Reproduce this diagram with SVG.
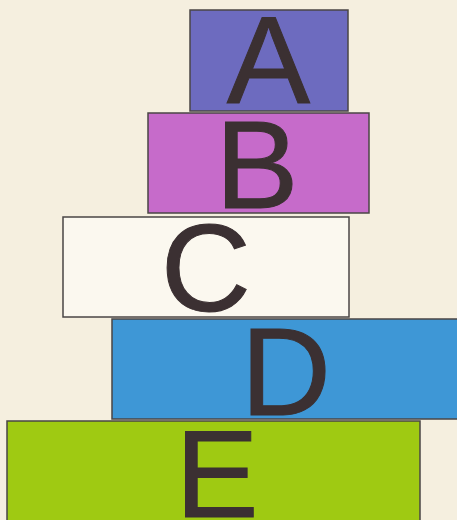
<svg xmlns="http://www.w3.org/2000/svg" width="457" height="520" viewBox="0 0 457 520">
<style>
.box{stroke:#4a4646;stroke-width:1.5}
.lbl{font-family:"Liberation Sans",Arial,sans-serif;font-size:125px;fill:#3b3032;stroke:#3b3032;stroke-width:1;text-anchor:middle}
</style>
<rect x="0" y="0" width="457" height="520" fill="#f5efdf"/>
<g id="connectors"/>
<g id="node-E">
<rect class="box" x="7" y="421" width="413" height="110" fill="#9fca12"/>
<text class="lbl" x="217" y="517">E</text>
</g>
<g id="node-D">
<rect class="box" x="112" y="319" width="360" height="100" fill="#3e97d6"/>
<text class="lbl" x="286" y="415">D</text>
</g>
<g id="node-C">
<rect class="box" x="63" y="217" width="286" height="100" fill="#fbf8ef"/>
<text class="lbl" x="206" y="311">C</text>
</g>
<g id="node-B">
<rect class="box" x="148" y="113" width="221" height="100" fill="#c66bca"/>
<text class="lbl" x="257" y="208">B</text>
</g>
<g id="node-A">
<rect class="box" x="190" y="10" width="158" height="101" fill="#6d6bbf"/>
<text class="lbl" x="268.5" y="103">A</text>
</g>
</svg>
